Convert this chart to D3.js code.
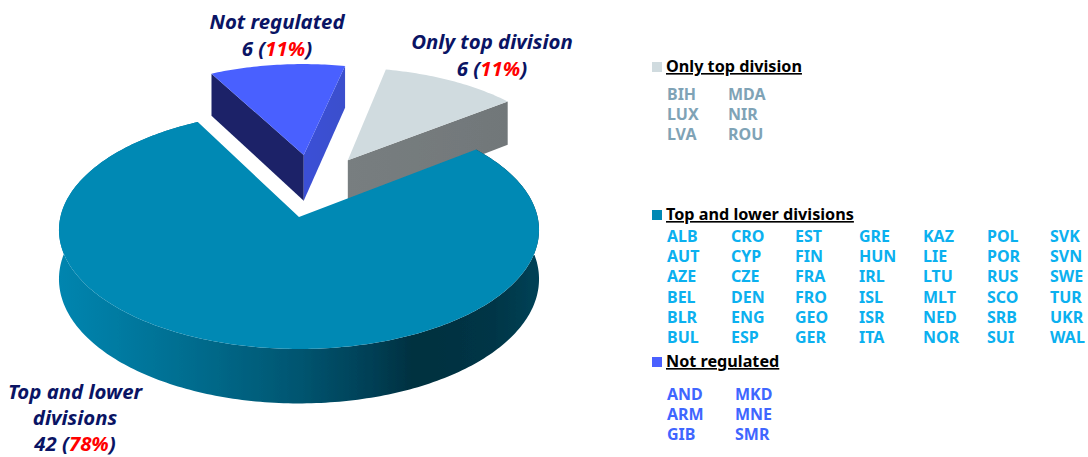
<!DOCTYPE html>
<html><head><meta charset="utf-8">
<script src="https://cdn.jsdelivr.net/npm/d3@7/dist/d3.min.js"></script>
<style>html,body{margin:0;padding:0;background:#fff}svg{display:block}
text{font-family:"Noto Sans","Open Sans",sans-serif}</style></head><body>
<svg id="c" width="1088" height="457"></svg>
<script>
// ---- data
const categories = ["Top and lower divisions", "Not regulated", "Only top division"];
const counts = [42, 6, 6];
const topLowerCodes = ["ALB","AUT","AZE","BEL","BLR","BUL","CRO","CYP","CZE","DEN","ENG","ESP","EST","FIN","FRA","FRO","GEO","GER","GRE","HUN","IRL","ISL","ISR","ITA","KAZ","LIE","LTU","MLT","NED","NOR","POL","POR","RUS","SCO","SRB","SUI","SVK","SVN","SWE","TUR","UKR","WAL"];
const notRegulatedCodes = ["AND","ARM","GIB","MKD","MNE","SMR"];
const onlyTopCodes = ["BIH","LUX","LVA","MDA","NIR","ROU"];

// ---- styles
const topColors = ["#0089b4", "#4a60ff", "#d0dbdf"];
const legendColors = ["#0089b4", "#4a60ff", "#d0dbdf"];
const codeColors = ["#0bb0ef", "#3f66ff", "#7fa3b6"];
const navy = "#0a1464", red = "#ff0000";

const svg = d3.select("#c");
const total = d3.sum(counts);
const deg = Math.PI / 180;
const pie = d3.pie().sort(null).startAngle(52.3 * deg).endAngle((52.3 + 360) * deg);
const arcs = pie(counts);

// perspective view of the disc
const K = 0.109, F = 238.6, G = 117.6, X0 = 299, Y0 = 217, H = 48.5;
const project = (u, v, h = 0) => {
  const d = 1 + K * v;
  return [X0 + F * u / d, Y0 - G * v / d + h * H / d];
};
const rim = (a0, a1, o, r, h) => {
  const n = Math.max(8, Math.round((a1 - a0) / deg));
  return d3.range(n + 1).map(i => {
    const a = a0 + (a1 - a0) * i / n;
    return project(o[0] + r * Math.sin(a), o[1] + r * Math.cos(a), h);
  });
};
const line = d3.line().curve(d3.curveLinear);
const closed = pts => line(pts) + "Z";

const defs = svg.append("defs");
defs.append("filter").attr("id", "soft").attr("x", "-5%").attr("y", "-5%").attr("width", "110%").attr("height", "110%")
  .append("feGaussianBlur").attr("stdDeviation", 0.45);
const grad = (id, x1, x2, stops) => {
  const g = defs.append("linearGradient").attr("id", id).attr("gradientUnits", "userSpaceOnUse")
    .attr("x1", x1).attr("x2", x2).attr("y1", 0).attr("y2", 0);
  stops.forEach(s => g.append("stop").attr("offset", s[0]).attr("stop-color", s[1]));
};
grad("mainSide", 59, 540, [[0, "#0085af"], [0.12, "#007ba2"], [0.3, "#006a8b"], [0.5, "#005570"], [0.65, "#023f55"], [0.74, "#02303f"], [0.9, "#033546"], [1, "#044257"]]);
grad("greyFace", 347, 509, [[0, "#787e80"], [1, "#717779"]]);
grad("nrRight", 305, 347, [[0, "#3a4fd6"], [1, "#3a50cc"]]);

const g = svg.append("g").attr("filter", "url(#soft)");
const offsets = [[0, 0], [0.021, 0.56], [0.216, 0.51]];
const scales = [1, 0.955, 0.965];

// Only top division
const drawOnlyTop = () => {
  const a = arcs[2], o = offsets[2], r = scales[2];
  const end = a.endAngle - 2 * Math.PI;
  const start = a.startAngle - 2 * Math.PI;
  const tip = rim(end, end, o, r, 0)[0], tipB = rim(end, end, o, r, 1)[0];
  g.append("path").attr("d", closed([project(o[0], o[1]), tip, tipB, project(o[0], o[1], 1)])).attr("fill", "url(#greyFace)");
  g.append("path").attr("d", closed([project(o[0], o[1]), ...rim(start, end, o, r, 0)])).attr("fill", topColors[2]);
};
// Not regulated
const drawNotRegulated = () => {
  const a = arcs[1], o = offsets[1], r = scales[1];
  const c = project(o[0], o[1]), cB = project(o[0], o[1], 1);
  const left = rim(a.startAngle, a.startAngle, o, r, 0)[0], leftB = rim(a.startAngle, a.startAngle, o, r, 1)[0];
  const right = rim(a.endAngle, a.endAngle, o, r, 0)[0], rightB = rim(a.endAngle, a.endAngle, o, r, 1)[0];
  g.append("path").attr("d", closed([c, left, leftB, cB])).attr("fill", "#1a2468");
  g.append("path").attr("d", closed([c, right, rightB, cB])).attr("fill", "url(#nrRight)");
  g.append("path").attr("d", closed([c, ...rim(a.startAngle, a.endAngle, o, r, 0)])).attr("fill", topColors[1]);
};
// Top and lower divisions
const drawMain = () => {
  const a = arcs[0], o = offsets[0];
  g.append("path").attr("d", closed([...rim(a.startAngle, a.endAngle, o, 1, 0), ...rim(a.startAngle, a.endAngle, o, 1, 1).reverse()])).attr("fill", "url(#mainSide)");
  g.append("path").attr("d", closed([project(0, 0), ...rim(a.startAngle, a.endAngle, o, 1, 0)])).attr("fill", topColors[0]);
};
drawOnlyTop(); drawNotRegulated(); drawMain();

// ---- slice labels
const pct = v => d3.format(".0%")(v / total);
const labelFont = 20.4;
const sliceLabels = [
  { i: 0, x: 75, lines: ["Top and lower", "divisions"], y: 399, step: 26 },
  { i: 1, x: 277, lines: ["Not regulated"], y: 29, step: 27 },
  { i: 2, x: 492, lines: ["Only top division"], y: 49, step: 27 }
];
sliceLabels.forEach(l => {
  const t = svg.append("text").attr("text-anchor", "middle").attr("font-size", labelFont)
    .attr("font-weight", 700).attr("font-style", "italic").attr("fill", navy);
  l.lines.forEach((s, j) => t.append("tspan").attr("x", l.x).attr("y", l.y + j * l.step).text(s));
  const t2 = svg.append("text").attr("text-anchor", "middle").attr("font-size", labelFont)
    .attr("font-weight", 700).attr("font-style", "italic").attr("fill", navy)
    .attr("x", l.x).attr("y", l.y + l.lines.length * l.step);
  t2.append("tspan").text(counts[l.i] + " (");
  t2.append("tspan").attr("fill", red).text(pct(counts[l.i]));
  t2.append("tspan").text(")");
});

// ---- legend
const legend = [
  { i: 2, codes: onlyTopCodes, head: 72, first: 100, step: 20, nRows: 3, cols: [667, 728] },
  { i: 0, codes: topLowerCodes, head: 220, first: 242, step: 20.2, nRows: 6, cols: [667, 731, 795, 859, 923, 987, 1050] },
  { i: 1, codes: notRegulatedCodes, head: 367, first: 400, step: 20, nRows: 3, cols: [667, 735] }
];
legend.forEach(b => {
  svg.append("rect").attr("x", 652).attr("y", b.head - 10).attr("width", 10).attr("height", 10).attr("fill", legendColors[b.i]);
  svg.append("text").attr("x", 666).attr("y", b.head).attr("font-size", 16.2).attr("font-weight", 700)
    .attr("fill", "#000").attr("text-decoration", "underline").text(categories[b.i]);
  svg.append("g").selectAll("text").data(b.codes).join("text")
    .attr("x", (d, k) => b.cols[Math.floor(k / b.nRows)])
    .attr("y", (d, k) => b.first + (k % b.nRows) * b.step)
    .attr("font-size", 16).attr("font-weight", 700).attr("fill", codeColors[b.i]).text(d => d);
});
</script></body></html>
